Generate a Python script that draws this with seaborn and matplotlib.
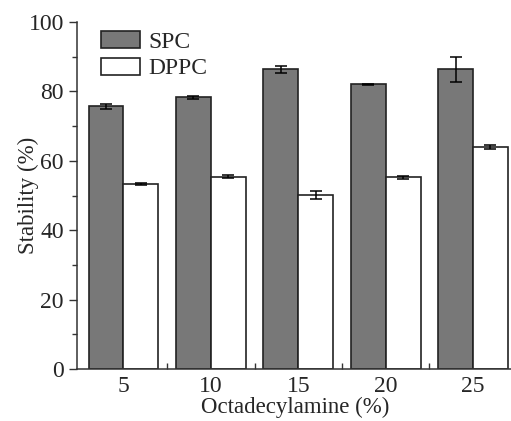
import matplotlib
matplotlib.use("Agg")
import matplotlib.pyplot as plt
import seaborn as sns
import pandas as pd
import numpy as np
from matplotlib.ticker import MultipleLocator, FixedLocator

categories = ["5", "10", "15", "20", "25"]
spc = [75.7, 78.3, 86.4, 82.0, 86.3]
spc_err = [0.7, 0.5, 1.0, 0.2, 3.6]
dppc = [53.3, 55.4, 50.2, 55.2, 64.0]
dppc_err = [0.2, 0.4, 1.1, 0.3, 0.5]
series = ["SPC", "DPPC"]

df = pd.DataFrame({
    "x": categories * 2,
    "y": spc + dppc,
    "err": spc_err + dppc_err,
    "s": [series[0]] * 5 + [series[1]] * 5,
})

sns.set_style("ticks")
plt.rcParams["font.family"] = ["Liberation Serif", "DejaVu Serif"]

fig = plt.figure(figsize=(5.11, 4.21), dpi=100)
ax = fig.add_axes([0.151, 0.123, 0.855, 0.825])

sns.barplot(data=df, x="x", y="y", hue="s", order=categories, hue_order=series,
            palette={"SPC": "#787878", "DPPC": "#ffffff"}, edgecolor="#222222",
            linewidth=1.2, width=0.8, errorbar=None, ax=ax, saturation=1)

# error bars at each bar's center
bars = [p for p in ax.patches if p.get_height() > 0][:10]
for p, (_, row) in zip(bars, df.iterrows()):
    cx = p.get_x() + p.get_width() / 2
    ax.errorbar(cx, p.get_height(), yerr=row["err"], fmt="none", ecolor="black",
                elinewidth=1.1, capsize=4, capthick=1.1)

ax.set_xlim(-0.53, 4.47)
ax.set_ylim(0, 100)
ax.yaxis.set_major_locator(MultipleLocator(20))
ax.yaxis.set_minor_locator(MultipleLocator(10))
ax.xaxis.set_minor_locator(FixedLocator([0.5, 1.5, 2.5, 3.5]))
ax.tick_params(axis="y", which="major", direction="out", length=6, width=1, labelsize=17, color="#333333")
ax.tick_params(axis="y", which="minor", direction="out", length=3.5, width=1, color="#333333")
ax.tick_params(axis="x", which="major", length=0, labelsize=17, pad=5)
ax.tick_params(axis="x", which="minor", direction="in", length=4, width=1, color="#333333")
for s in ["top", "right"]:
    ax.spines[s].set_visible(False)
for s in ["left", "bottom"]:
    ax.spines[s].set_color("#333333")
    ax.spines[s].set_linewidth(1.1)

ax.set_xlabel("Octadecylamine (%)", fontsize=16.5, labelpad=-0.5)
ax.set_ylabel("Stability (%)", fontsize=16.5, labelpad=-7.5)

leg = ax.legend(loc="upper left", bbox_to_anchor=(0.023, 1.015), frameon=False, fontsize=17,
                handlelength=1.65, handleheight=0.76, handletextpad=0.35, labelspacing=0.2,
                borderaxespad=0.2)

fig.savefig("out.png", dpi=100)
